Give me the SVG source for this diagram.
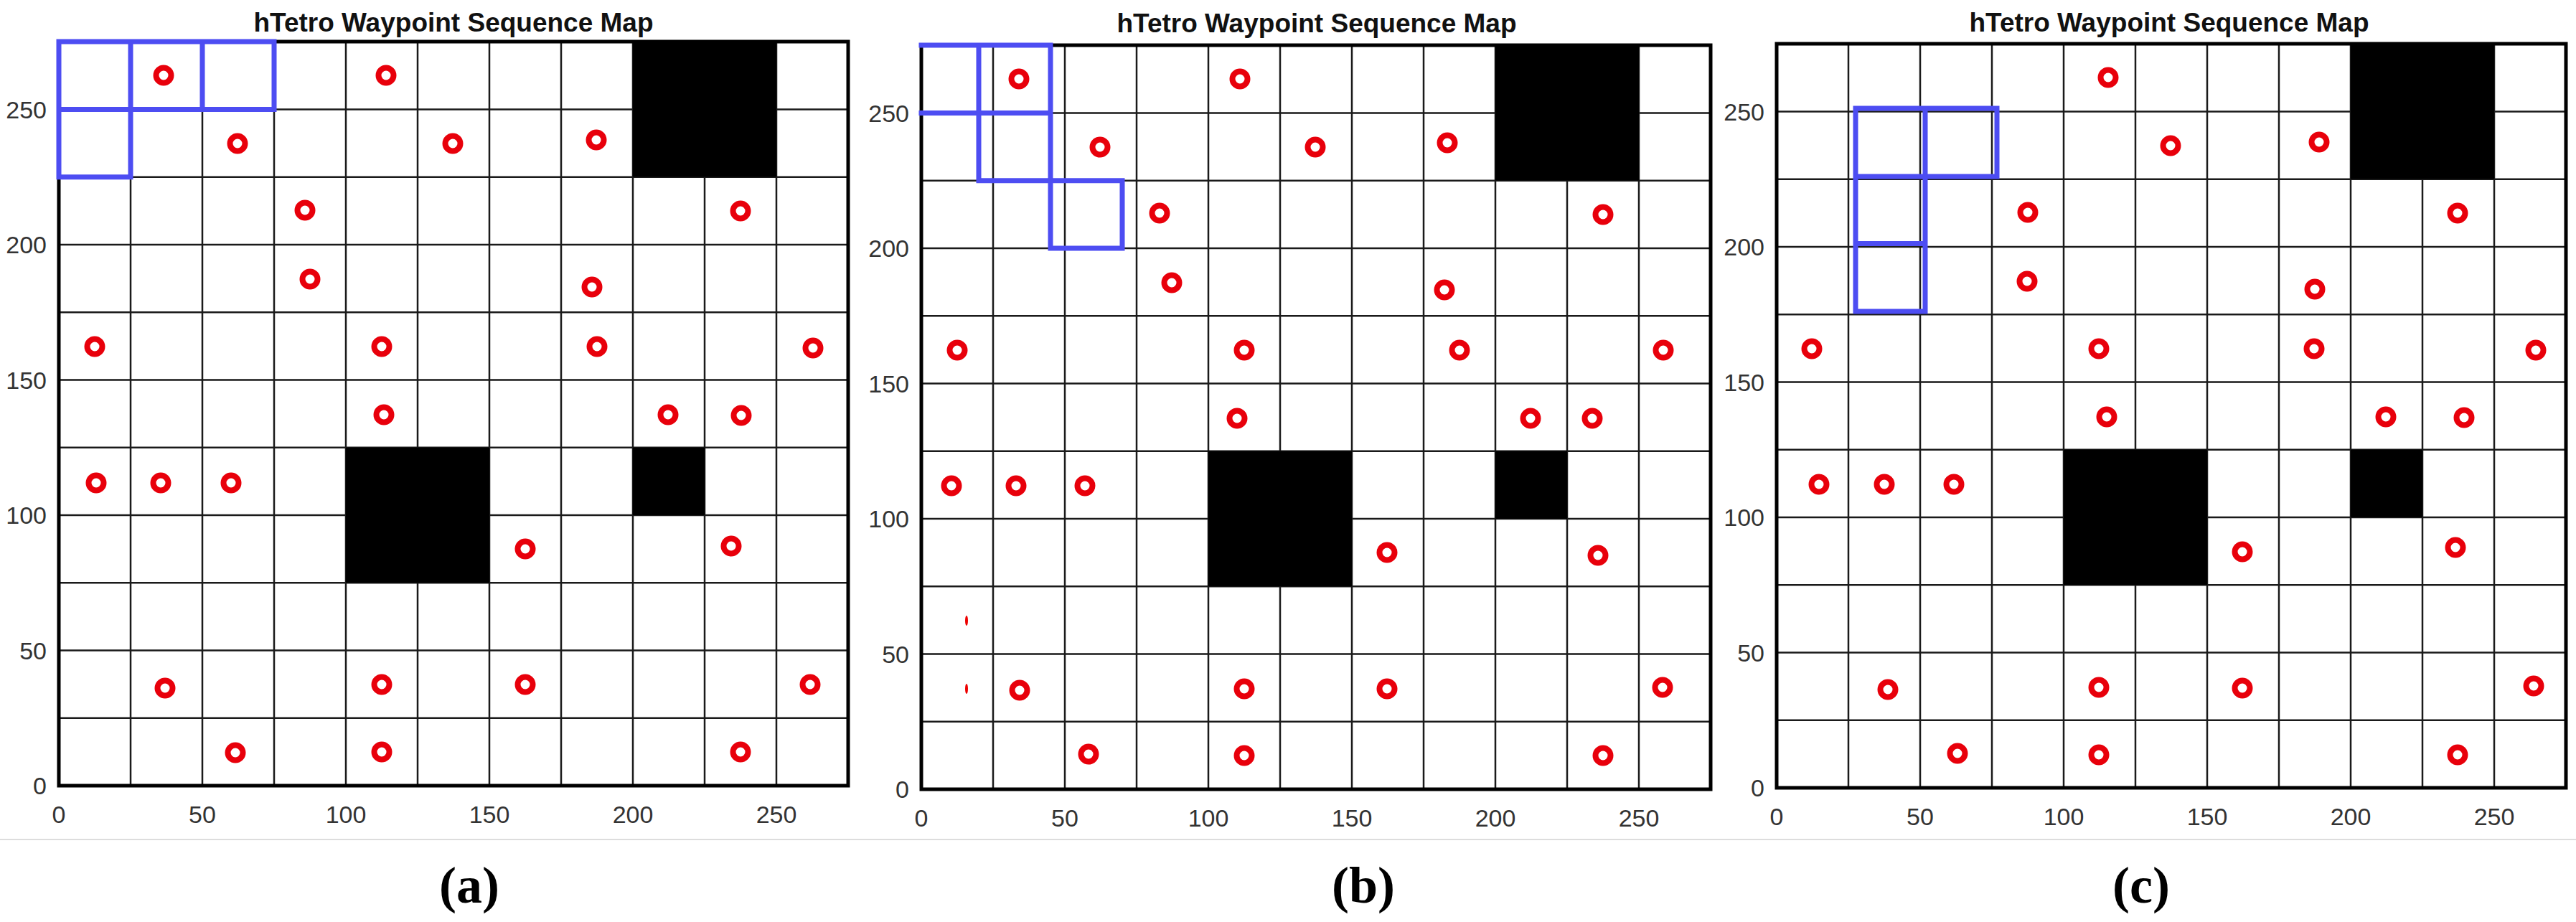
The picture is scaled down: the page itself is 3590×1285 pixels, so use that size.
<svg xmlns="http://www.w3.org/2000/svg" xmlns:xlink="http://www.w3.org/1999/xlink" width="3590" height="1285" viewBox="0 0 3590 1285">
<style>
.grid{stroke:#1a1a1a;stroke-width:2.5;fill:none}
.frame{stroke:#000;stroke-width:5;fill:none}
.obs{fill:#000}
.blue{stroke:#4d4df2;stroke-width:7;fill:none;stroke-linecap:square}
.tick{font-family:"Liberation Sans",Arial,sans-serif;font-size:34px;fill:#333}
.ty{text-anchor:end}
.tx{text-anchor:middle}
.title{font-family:"Liberation Sans",Arial,sans-serif;font-size:37px;font-weight:bold;fill:#111;text-anchor:middle}
.cap{font-family:"Liberation Serif","Times New Roman",serif;font-size:72px;font-weight:bold;fill:#000;text-anchor:middle}
.sl{fill:#e00}
</style>
<defs>
<circle id="wp" r="10.5" fill="#fff" stroke="#e8000b" stroke-width="8"/>
<g id="base">
<path class="grid" d="M100,-1037V0M200,-1037V0M300,-1037V0M400,-1037V0M500,-1037V0M600,-1037V0M700,-1037V0M800,-1037V0M900,-1037V0M1000,-1037V0M0,-94.25H1100M0,-188.5H1100M0,-282.75H1100M0,-377H1100M0,-471.25H1100M0,-565.5H1100M0,-659.75H1100M0,-754H1100M0,-848.25H1100M0,-942.5H1100"/>
<rect class="obs" x="800" y="-1037" width="200" height="188.5"/>
<rect class="obs" x="400" y="-471.25" width="200" height="188.5"/>
<rect class="obs" x="800" y="-471.25" width="100" height="94.25"/>
<rect class="frame" x="0" y="-1037" width="1100" height="1037"/>
<g class="tick ty">
<text x="-17" y="12">0</text><text x="-17" y="-176.5">50</text><text x="-17" y="-365">100</text><text x="-17" y="-553.5">150</text><text x="-17" y="-742">200</text><text x="-17" y="-930.5">250</text>
</g>
<g class="tick tx">
<text x="0" y="52">0</text><text x="200" y="52">50</text><text x="400" y="52">100</text><text x="600" y="52">150</text><text x="800" y="52">200</text><text x="1000" y="52">250</text>
</g>
</g>
</defs>
<rect width="3590" height="1285" fill="#fff"/>
<line x1="0" y1="1170" x2="3590" y2="1170" stroke="#ddd" stroke-width="2"/>

<g id="panel-a">
<text class="title" x="632" y="44">hTetro Waypoint Sequence Map</text>
<g transform="translate(82,1095)">
<use xlink:href="#base"/>
<path class="blue" d="M0,-1037H300V-942.5H0M0,-1037V-848.25H100V-1037M200,-1037V-942.5"/>
<g id="wps-a">
<use xlink:href="#wp" x="146" y="-990"/><use xlink:href="#wp" x="456" y="-990"/><use xlink:href="#wp" x="249" y="-895"/><use xlink:href="#wp" x="549" y="-895"/><use xlink:href="#wp" x="749" y="-900"/><use xlink:href="#wp" x="343" y="-802"/><use xlink:href="#wp" x="950" y="-801"/><use xlink:href="#wp" x="350" y="-706"/><use xlink:href="#wp" x="743" y="-695"/><use xlink:href="#wp" x="50" y="-612"/><use xlink:href="#wp" x="450" y="-612"/><use xlink:href="#wp" x="750" y="-612"/><use xlink:href="#wp" x="1051" y="-610"/><use xlink:href="#wp" x="453" y="-517"/><use xlink:href="#wp" x="849" y="-517"/><use xlink:href="#wp" x="951" y="-516"/><use xlink:href="#wp" x="52" y="-422"/><use xlink:href="#wp" x="142" y="-422"/><use xlink:href="#wp" x="240" y="-422"/><use xlink:href="#wp" x="650" y="-330"/><use xlink:href="#wp" x="937" y="-334"/><use xlink:href="#wp" x="148" y="-136"/><use xlink:href="#wp" x="450" y="-141"/><use xlink:href="#wp" x="650" y="-141"/><use xlink:href="#wp" x="1047" y="-141"/><use xlink:href="#wp" x="246" y="-46"/><use xlink:href="#wp" x="450" y="-47"/><use xlink:href="#wp" x="950" y="-47"/>
</g>
</g>
<text class="cap" x="654" y="1258">(a)</text>
</g>

<g id="panel-b">
<text class="title" x="1835" y="45">hTetro Waypoint Sequence Map</text>
<g transform="translate(1284,1100)">
<use xlink:href="#base"/>
<path class="blue" d="M0,-1037H180M0,-942.5H180M80,-1037V-848.25M180,-1037V-754M80,-848.25H280V-754H180"/>
<ellipse class="sl" cx="63" cy="-235" rx="2" ry="7"/>
<ellipse class="sl" cx="63" cy="-140" rx="2" ry="7"/>
<g id="wps-b">
<use xlink:href="#wp" x="136" y="-990"/><use xlink:href="#wp" x="444" y="-990"/><use xlink:href="#wp" x="249" y="-895"/><use xlink:href="#wp" x="549" y="-895"/><use xlink:href="#wp" x="733" y="-901"/><use xlink:href="#wp" x="332" y="-803"/><use xlink:href="#wp" x="950" y="-801"/><use xlink:href="#wp" x="349" y="-706"/><use xlink:href="#wp" x="729" y="-696"/><use xlink:href="#wp" x="50" y="-612"/><use xlink:href="#wp" x="450" y="-612"/><use xlink:href="#wp" x="750" y="-612"/><use xlink:href="#wp" x="1034" y="-612"/><use xlink:href="#wp" x="440" y="-517"/><use xlink:href="#wp" x="849" y="-517"/><use xlink:href="#wp" x="935" y="-517"/><use xlink:href="#wp" x="42" y="-423"/><use xlink:href="#wp" x="132" y="-423"/><use xlink:href="#wp" x="228" y="-423"/><use xlink:href="#wp" x="649" y="-330"/><use xlink:href="#wp" x="943" y="-326"/><use xlink:href="#wp" x="137" y="-138"/><use xlink:href="#wp" x="450" y="-140"/><use xlink:href="#wp" x="649" y="-140"/><use xlink:href="#wp" x="1033" y="-142"/><use xlink:href="#wp" x="233" y="-49"/><use xlink:href="#wp" x="450" y="-47"/><use xlink:href="#wp" x="950" y="-47"/>
</g>
</g>
<text class="cap" x="1900" y="1258">(b)</text>
</g>

<g id="panel-c">
<text class="title" x="3023" y="44">hTetro Waypoint Sequence Map</text>
<g transform="translate(2476,1098)">
<use xlink:href="#base"/>
<path class="blue" d="M110,-947H307V-852H110M110,-947V-664H207V-947M110,-758.5H207"/>
<g id="wps-c">
<use xlink:href="#wp" x="462" y="-990"/><use xlink:href="#wp" x="549" y="-895"/><use xlink:href="#wp" x="756" y="-900"/><use xlink:href="#wp" x="350" y="-802"/><use xlink:href="#wp" x="949" y="-801"/><use xlink:href="#wp" x="349" y="-706"/><use xlink:href="#wp" x="750" y="-695"/><use xlink:href="#wp" x="49" y="-612"/><use xlink:href="#wp" x="449" y="-612"/><use xlink:href="#wp" x="749" y="-612"/><use xlink:href="#wp" x="1058" y="-610"/><use xlink:href="#wp" x="460" y="-517"/><use xlink:href="#wp" x="849" y="-517"/><use xlink:href="#wp" x="958" y="-516"/><use xlink:href="#wp" x="59" y="-423"/><use xlink:href="#wp" x="150" y="-423"/><use xlink:href="#wp" x="247" y="-423"/><use xlink:href="#wp" x="649" y="-329"/><use xlink:href="#wp" x="946" y="-335"/><use xlink:href="#wp" x="155" y="-137"/><use xlink:href="#wp" x="449" y="-140"/><use xlink:href="#wp" x="649" y="-139"/><use xlink:href="#wp" x="1055" y="-142"/><use xlink:href="#wp" x="252" y="-48"/><use xlink:href="#wp" x="449" y="-46"/><use xlink:href="#wp" x="949" y="-46"/>
</g>
</g>
<text class="cap" x="2984" y="1258">(c)</text>
</g>
</svg>
